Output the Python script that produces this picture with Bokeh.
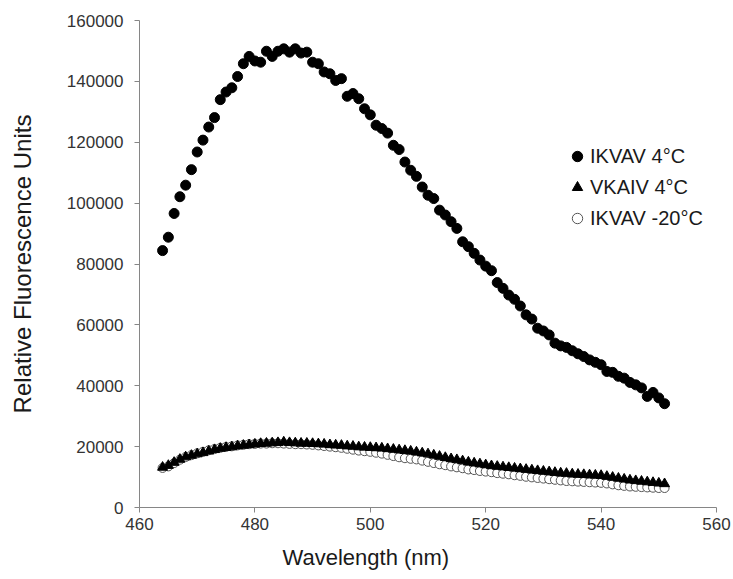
from bokeh.plotting import figure
from bokeh.models import (ColumnDataSource, Range1d, FixedTicker, NumeralTickFormatter,
                          Legend, LegendItem, Title)
from bokeh.embed import file_html
from bokeh.resources import INLINE

# ---------------- data ----------------
wavelength = list(range(464, 552))

ikvav_4c = [
    84400, 88800, 96600, 102100, 105900, 111000, 116800, 120700, 125000, 128100,
    134000, 136500, 137900, 141600, 145800, 148200, 146700, 146300, 149900, 148200,
    149900, 150700, 149600, 150700, 149300, 149600, 146300, 145800, 143100, 142500,
    140300, 140900, 135100, 136000, 134300, 131000, 129000, 125600, 124500, 123000,
    119000, 117600, 113500, 110800, 108800, 105300, 102600, 101500, 97700, 96100,
    93900, 91700, 87300, 85700, 83500, 81300, 79300, 77800, 73900, 72000,
    69800, 68400, 66200, 63300, 61900, 58900, 58000, 56700, 54000, 53100,
    52600, 51500, 50500, 49600, 48500, 47700, 46900, 44700, 44400, 43100,
    42500, 41100, 40300, 39300, 36500, 37800, 36000, 34100,
]

vkaiv_4c = [
    13200, 13800, 14800, 15800, 16600, 17100, 17600, 18000, 18500, 19000,
    19400, 19700, 19900, 20200, 20400, 20600, 20800, 21000, 21100, 21200,
    21300, 21500, 21300, 21200, 21100, 21100, 21000, 20900, 20800, 20600,
    20500, 20400, 20200, 20100, 19900, 19800, 19700, 19600, 19500, 19300,
    19100, 18900, 18700, 18500, 18200, 17900, 17600, 17200, 16800, 16400,
    16000, 15700, 15300, 14900, 14600, 14300, 14000, 13700, 13500, 13300,
    13100, 12900, 12700, 12500, 12300, 12100, 11900, 11700, 11500, 11300,
    11200, 11000, 10900, 10800, 10700, 10600, 10500, 10200, 9900, 9600,
    9300, 9000, 8800, 8600, 8400, 8200, 8000, 7800,
]

ikvav_m20c = [
    13000, 13500, 14600, 15700, 16600, 17200, 17800, 18300, 18800, 19200,
    19600, 19900, 20100, 20400, 20600, 20800, 20900, 21000, 21000, 21100,
    21100, 21000, 20900, 20800, 20800, 20700, 20600, 20400, 20200, 20000,
    19800, 19600, 19300, 19000, 18700, 18500, 18300, 18000, 17700, 17300,
    16900, 16500, 16200, 16000, 15800, 15400, 15000, 14600, 14200, 13900,
    13500, 13200, 12900, 12500, 12300, 12000, 11800, 11600, 11300, 11100,
    10900, 10600, 10400, 10100, 9900, 9700, 9500, 9300, 9100, 8900,
    8700, 8600, 8500, 8400, 8300, 8200, 8100, 7900, 7600, 7300,
    7100, 6900, 6800, 6700, 6600, 6500, 6400, 6400,
]

series_names = ["IKVAV 4°C", "VKAIV 4°C", "IKVAV -20°C"]
x_title = "Wavelength (nm)"
y_title = "Relative Fluorescence Units"
x_ticks = [460, 480, 500, 520, 540, 560]
y_ticks = [0, 20000, 40000, 60000, 80000, 100000, 120000, 140000, 160000]

src = ColumnDataSource(dict(x=wavelength, a=ikvav_4c, b=vkaiv_4c, c=ikvav_m20c))

FONT = "Liberation Sans"

p = figure(width=733, height=579, output_backend="svg", toolbar_location=None,
           x_range=Range1d(460, 560), y_range=Range1d(0, 160000),
           min_border_left=139, min_border_right=17, min_border_top=20, min_border_bottom=71)
p.outline_line_color = None
p.grid.grid_line_color = None
p.background_fill_color = "white"
p.border_fill_color = "white"

r_c = p.scatter("x", "c", source=src, marker="circle", size=9, fill_color="white",
                line_color="#555555", line_width=1)
r_b = p.scatter("x", "b", source=src, marker="triangle", size=10, fill_color="black",
                line_color="black")
r_a = p.scatter("x", "a", source=src, marker="circle", size=10, fill_color="black",
                line_color="black")

for ax in (p.xaxis[0], p.yaxis[0]):
    ax.axis_line_color = "#868686"
    ax.major_tick_line_color = "#868686"
    ax.major_tick_out = 5
    ax.major_tick_in = 0
    ax.minor_tick_line_color = None
    ax.major_label_text_font = FONT
    ax.major_label_text_font_size = "17px"
    ax.major_label_text_color = "#333333"
    ax.axis_label_text_font = FONT
    ax.axis_label_text_font_style = "normal"
    ax.axis_label_text_color = "#1a1a1a"

p.xaxis.ticker = FixedTicker(ticks=x_ticks)
p.yaxis.ticker = FixedTicker(ticks=y_ticks)
p.yaxis.formatter = NumeralTickFormatter(format="0")
p.yaxis.axis_label = y_title
p.yaxis.axis_label_text_font_size = "24px"
p.xaxis.major_label_standoff = 5
p.yaxis.major_label_standoff = 11
p.yaxis.axis_label_standoff = 28

# x-axis title (placed left of centre, as in the original)
p.add_layout(Title(text=x_title, align="left", offset=143, standoff=20,
                   text_line_height=0.7,
                   text_font=FONT, text_font_size="22px", text_font_style="normal",
                   text_color="#1a1a1a"), "below")

legend = Legend(items=[LegendItem(label=series_names[0], renderers=[r_a]),
                       LegendItem(label=series_names[1], renderers=[r_b]),
                       LegendItem(label=series_names[2], renderers=[r_c])],
                location=(425, 276), orientation="vertical",
                glyph_width=26, glyph_height=26, label_height=26, spacing=5,
                label_standoff=-6, padding=0, margin=0,
                border_line_alpha=0, background_fill_alpha=0,
                label_text_font=FONT, label_text_font_size="20px", label_text_color="#1a1a1a")
p.add_layout(legend, "center")

open("out.html", "w").write(file_html(p, INLINE))
